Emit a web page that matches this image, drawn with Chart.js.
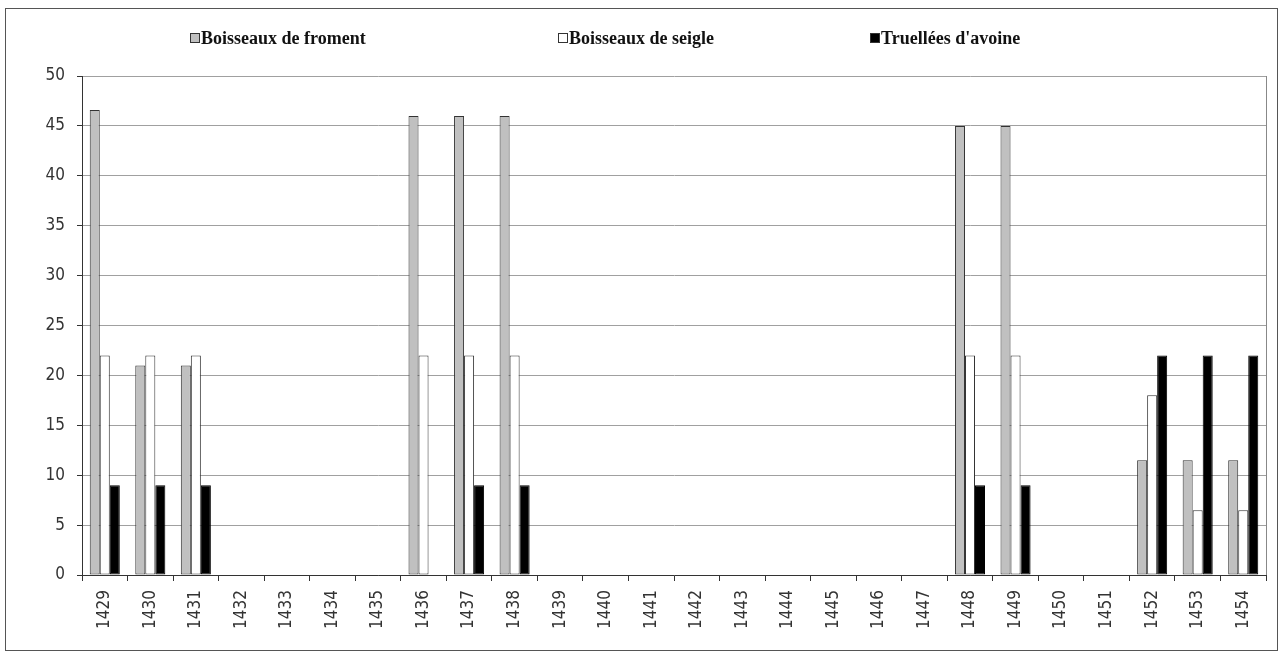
<!DOCTYPE html>
<html>
<head>
<meta charset="utf-8">
<script src="https://cdn.jsdelivr.net/npm/chart.js@4/dist/chart.umd.min.js"></script>
<style>
  html, body { margin: 0; padding: 0; background: #fff; }
  #wrap { width: 1283px; height: 660px; position: relative; }
</style>
</head>
<body>
<div id="wrap"><canvas id="grainChart"></canvas></div>
<script>
const years = ["1429", "1430", "1431", "1432", "1433", "1434", "1435", "1436", "1437", "1438",
  "1439", "1440", "1441", "1442", "1443", "1444", "1445", "1446", "1447", "1448",
  "1449", "1450", "1451", "1452", "1453", "1454"];

const froment = [46.6, 21, 21, 0, 0, 0, 0, 46, 46, 46, 0, 0, 0, 0, 0, 0, 0, 0, 0, 45, 45, 0, 0, 11.5, 11.5, 11.5];
const seigle = [22, 22, 22, 0, 0, 0, 0, 22, 22, 22, 0, 0, 0, 0, 0, 0, 0, 0, 0, 22, 22, 0, 0, 18, 6.5, 6.5];
const avoine = [9, 9, 9, 0, 0, 0, 0, 0, 9, 9, 0, 0, 0, 0, 0, 0, 0, 0, 0, 9, 9, 0, 0, 22, 22, 22];

const seriesNames = ["Boisseaux de froment", "Boisseaux de seigle", "Truellées d'avoine"];
const yTicks = [0, 5, 10, 15, 20, 25, 30, 35, 40, 45, 50];

const fills = ["#c0c0c0", "#ffffff", "#000000"];
const borders = ["#333333", "#333333", "#000000"];

// legend spread out like the spreadsheet one, plus the outer frame
const frameAndLegend = {
  id: "frameAndLegend",
  afterDraw(chart) {
    const c = chart.ctx;
    const area = chart.chartArea;
    c.save();
    c.strokeStyle = "#555";
    c.lineWidth = 1;
    c.strokeRect(5.5, 8.5, chart.width - 11, chart.height - 18);

    // right edge of plot area
    c.strokeStyle = "#888";
    c.beginPath();
    c.moveTo(Math.round(area.right) + 0.5, area.top);
    c.lineTo(Math.round(area.right) + 0.5, area.bottom);
    c.stroke();

    const xs = [190, 558, 870];
    c.font = "bold 18px 'Liberation Serif'";
    c.textBaseline = "alphabetic";
    seriesNames.forEach((name, i) => {
      c.fillStyle = fills[i];
      c.fillRect(xs[i], 33, 10, 10);
      c.strokeStyle = "#333";
      c.strokeRect(xs[i] + 0.5, 33.5, 9, 9);
      c.fillStyle = "#111";
      c.fillText(name, xs[i] + 11, 44);
    });
    c.restore();
  }
};

const ctx = document.getElementById("grainChart");

new Chart(ctx, {
  type: "bar",
  data: {
    labels: years,
    datasets: [froment, seigle, avoine].map((d, i) => ({
      label: seriesNames[i],
      data: d,
      backgroundColor: fills[i],
      borderColor: borders[i],
      borderWidth: 1,
      borderSkipped: false,
      categoryPercentage: 0.66,
      barPercentage: 1
    }))
  },
  options: {
    responsive: true,
    maintainAspectRatio: false,
    animation: false,
    layout: { padding: { left: 0, top: 76, right: 17, bottom: 0 } },
    plugins: {
      legend: { display: false },
      tooltip: { enabled: false }
    },
    scales: {
      x: {
        grid: {
          offset: true,
          drawOnChartArea: false,
          tickLength: 6,
          tickColor: "#333"
        },
        border: { color: "#333" },
        ticks: {
          minRotation: 90,
          maxRotation: 90,
          autoSkip: false,
          color: "#333",
          font: { family: "'DejaVu Sans Condensed', 'DejaVu Sans'", size: 17 },
          padding: 9
        },
        afterFit(scale) { scale.height = 85; }
      },
      y: {
        min: 0,
        max: 50,
        afterBuildTicks(scale) { scale.ticks = yTicks.map(v => ({ value: v })); },
        grid: {
          color: "#a0a0a0",
          tickColor: "#333",
          tickLength: 5
        },
        border: { color: "#333" },
        ticks: {
          color: "#333",
          font: { family: "'DejaVu Sans Condensed', 'DejaVu Sans'", size: 17 },
          padding: 12
        },
        afterFit(scale) { scale.width = 82; }
      }
    }
  },
  plugins: [frameAndLegend]
});
</script>
</body>
</html>
